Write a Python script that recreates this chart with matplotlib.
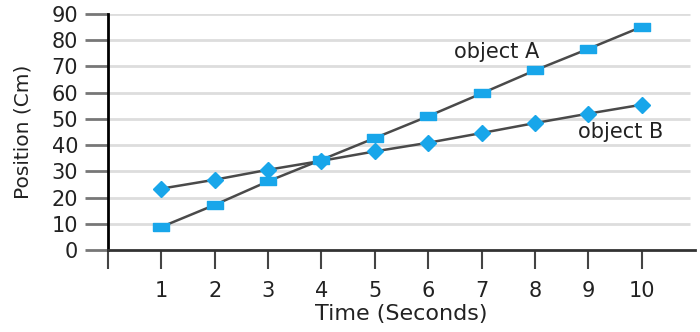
import matplotlib.pyplot as plt
import numpy as np

time_s=[1,2,3,4,5,6,7,8,9,10]
pos_a=[8.8,17.2,26.2,34.4,42.7,51.0,59.7,68.5,76.7,85.1]
pos_b=[23.4,26.8,30.6,34.0,37.6,40.9,44.6,48.4,52.0,55.4]
y_ticks=[0,10,20,30,40,50,60,70,80,90]

blue="#18a6ea"
line_col="#4a4a4a"

plt.rcParams["font.family"]=["DejaVu Sans"]
fig=plt.figure(figsize=(7,3.32),dpi=100)
ax=fig.add_axes([108/700,82/332,587/700,236/332])

ax.hlines(y_ticks[1:],0,10.9,color="#dddddd",lw=2,zorder=1)

rect=[(-1.8,-1),(1.8,-1),(1.8,1),(-1.8,1),(-1.8,-1)]
ax.plot(time_s,pos_a,color=line_col,lw=1.8,zorder=2)
ax.plot(time_s,pos_b,color=line_col,lw=1.8,zorder=2)
ax.plot(time_s,pos_a,ls="none",marker=rect,ms=11,color=blue,zorder=3)
ax.plot(time_s,pos_b,ls="none",marker="D",ms=8,color=blue,zorder=3)

ax.text(7.28,75.5,"object A",fontsize=15,ha="center",va="center",color="#222222")
ax.text(9.6,45,"object B",fontsize=15,ha="center",va="center",color="#222222")

ax.set_xlim(0,11)
ax.set_ylim(0,90)
ax.set_yticks(y_ticks)
ax.set_xticks([0]+time_s)
ax.set_xticklabels([""]+[str(t) for t in time_s])
ax.tick_params(axis="y",length=16.5,width=2,color="#777777",pad=5,labelsize=15,labelcolor="#222222")
ax.tick_params(axis="x",length=13.5,width=1.5,color="#444444",pad=9,labelsize=15,labelcolor="#222222")

for s in ["top","right"]:
    ax.spines[s].set_visible(False)
ax.spines["left"].set_linewidth(2)
ax.spines["bottom"].set_linewidth(2)
ax.spines["bottom"].set_color("#333333")

ax.set_xlabel("Time (Seconds)",fontsize=16,color="#222222",labelpad=2)
ax.set_ylabel("Position (Cm)",fontsize=14.5,color="#222222",labelpad=14)

fig.savefig("out.png",dpi=100)
